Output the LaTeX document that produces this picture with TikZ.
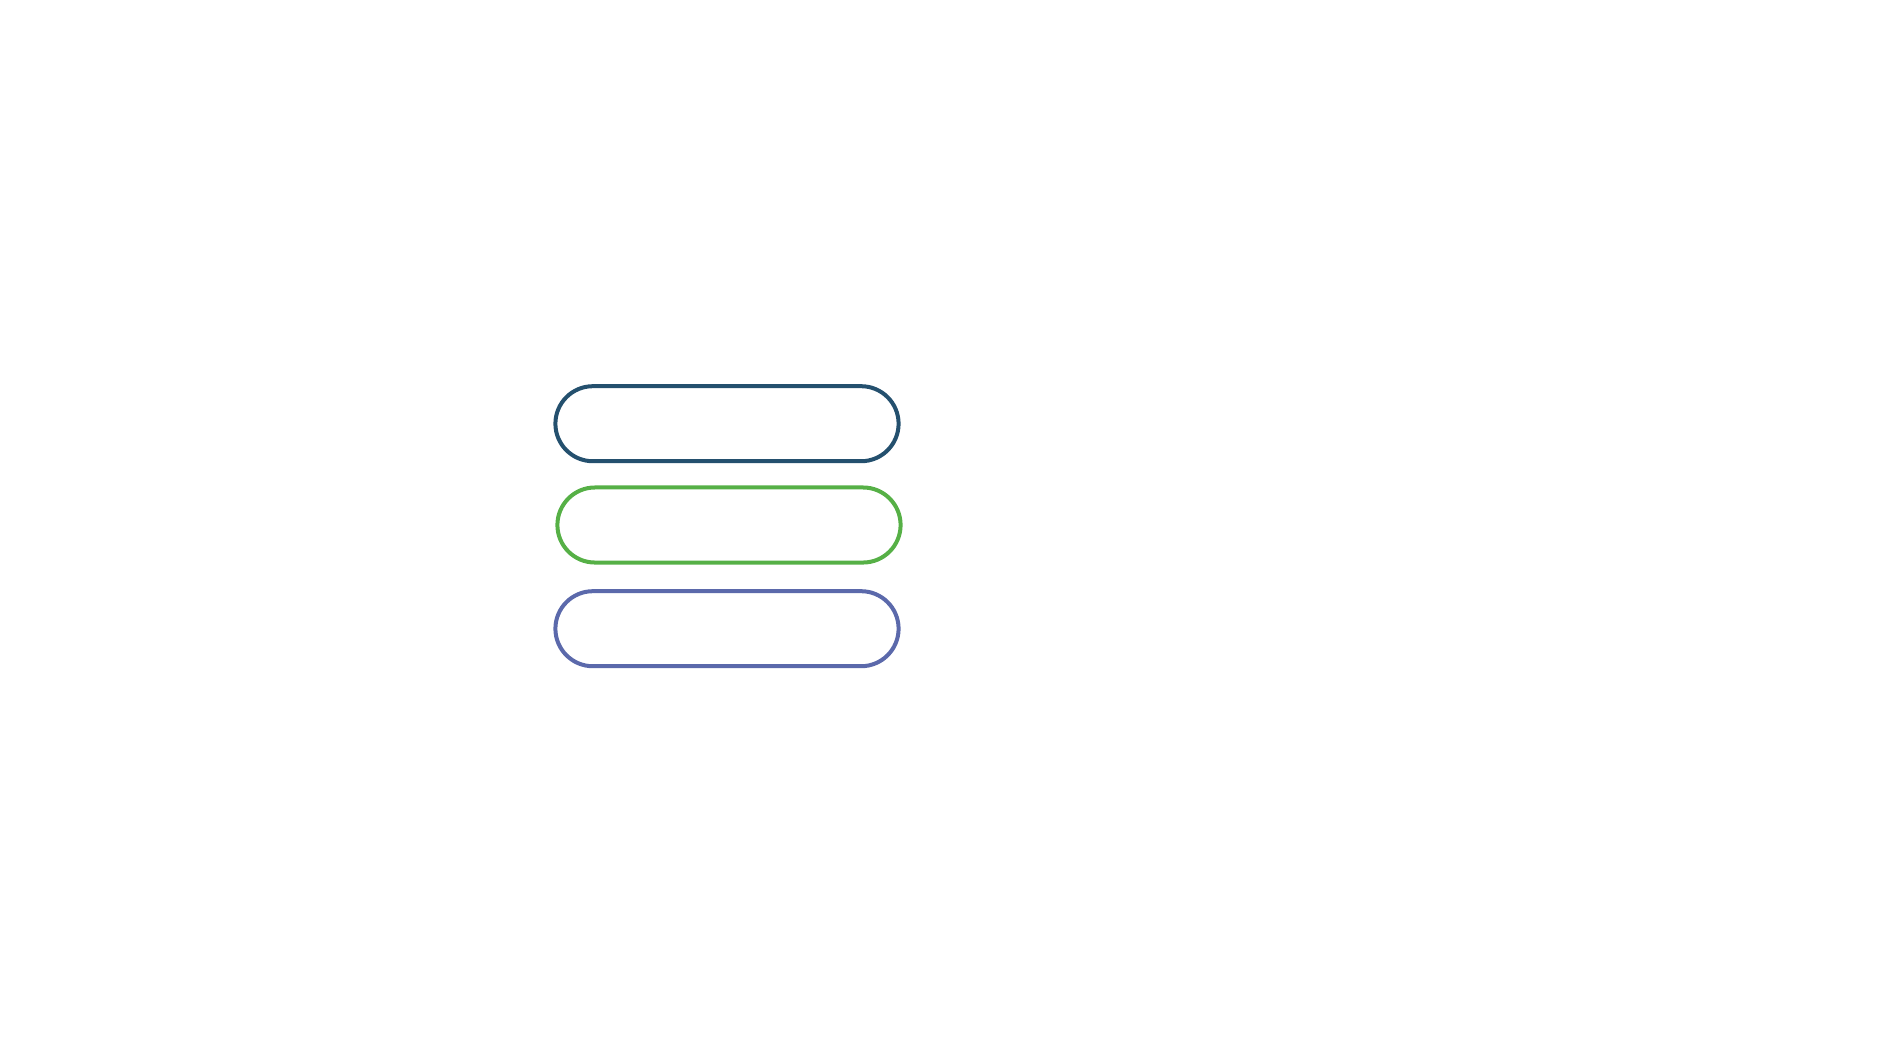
\documentclass[tikz,border=0pt]{standalone}
\usepackage{xcolor}
\newcommand{\pillwid}{3.43cm}
\newcommand{\pillhei}{0.75cm}
\definecolor{pillnavy}{HTML}{24506E}
\definecolor{pillgreen}{HTML}{56B046}
\definecolor{pillslate}{HTML}{5B69AB}

\begin{document}
\begin{tikzpicture}[x=0.01cm, y=-0.01cm,
    pill/.style={draw, line width=0.04cm, minimum width=\pillwid,
        minimum height=\pillhei, rounded corners=0.375cm, inner sep=0pt}]
        \useasboundingbox (0, 0) rectangle (1890, 1063);

        % pills
        \node[pill, draw=pillnavy] (navyPill) at (727, 423.7) {};
        \node[pill, draw=pillgreen] (greenPill) at (729, 525) {};
        \node[pill, draw=pillslate] (slatePill) at (727, 628.7) {};
    \end{tikzpicture}
\end{document}
